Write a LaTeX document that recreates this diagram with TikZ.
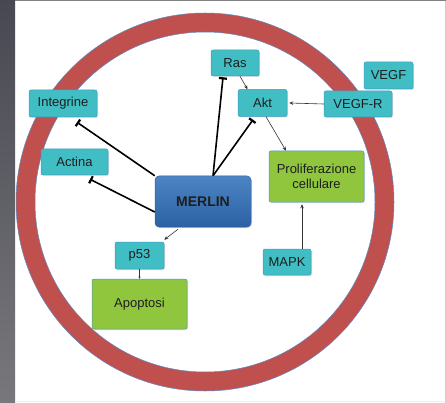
\documentclass[tikz,border=0pt]{standalone}
\usepackage{fontspec}
\setmainfont{Liberation Sans}
\usetikzlibrary{arrows.meta,shadows}
\definecolor{teal1}{RGB}{64,190,196}
\definecolor{tealedge}{RGB}{70,150,200}
\definecolor{green1}{RGB}{143,198,62}
\definecolor{ringred}{RGB}{192,80,77}
\definecolor{ringblue}{RGB}{90,140,200}
\definecolor{mtop}{RGB}{76,132,196}
\definecolor{mbot}{RGB}{44,98,164}
\definecolor{txt}{RGB}{30,30,30}
\tikzset{
  box/.style={rounded corners=2pt, draw=tealedge, line width=0.5pt, fill=teal1,
    text=txt, font=\fontsize{13}{15}\selectfont, align=center, inner sep=0pt,
    drop shadow={shadow xshift=1pt, shadow yshift=-1pt, opacity=0.25}},
  gbox/.style={box, fill=green1},
  mbox/.style={rounded corners=4pt, draw=mbot, line width=0.5pt, top color=mtop, bottom color=mbot,
    text=txt, font=\fontsize{14}{16}\selectfont\bfseries, inner sep=0pt,
    drop shadow={shadow xshift=1pt, shadow yshift=-1pt, opacity=0.25}},
  inhib/.style={line width=1.6pt, -{Bar[width=8pt,line width=2.2pt]}},
  act/.style={line width=0.6pt, draw=black!80, -{Stealth[length=4pt,width=3.5pt]}}
}
\begin{document}
\begin{tikzpicture}[x=1pt,y=-1pt]
\useasboundingbox (0,0) rectangle (446,403);
% background
\fill[white] (0,0) rectangle (446,403);
\shade[top color={rgb,255:red,72;green,72;blue,82}, bottom color={rgb,255:red,120;green,120;blue,124}] (0,0) rectangle (15,403);
\fill[black!50] (15,0) rectangle (446,1.3);
\fill[black!20] (444.5,1.3) rectangle (446,403);
\fill[black!6] (15,400.5) rectangle (444.5,401.5);
% ring
\draw[ringred, line width=19pt] (205,202) circle[radius=179.5];
\draw[ringblue, line width=0.5pt] (205,202) circle[radius=189];
\draw[ringblue, line width=0.5pt] (205,202) circle[radius=170];
% nodes
\node[box, minimum width=48pt, minimum height=26pt] (ras) at (235,63) {Ras};
\node[box, minimum width=49pt, minimum height=27pt] (vegf) at (388.5,75.5) {VEGF};
\node[box, minimum width=68pt, minimum height=27pt] (integ) at (63,103.5) {Integrine};
\node[box, minimum width=49pt, minimum height=27pt] (akt) at (262.5,103) {Akt};
\node[box, minimum width=68pt, minimum height=26pt] (vegfr) at (358,104) {VEGF-R};
\node[box, minimum width=67pt, minimum height=26pt] (actina) at (74.5,162) {Actina};
\node[mbox, minimum width=96pt, minimum height=51pt] (merlin) at (203,201.5) {MERLIN};
\node[gbox, minimum width=95pt, minimum height=51pt] (prolif) at (316.5,176.5) {Proliferazione\\cellulare};
\node[box, minimum width=49pt, minimum height=27pt] (p53) at (139.5,255.5) {p53};
\node[box, minimum width=48pt, minimum height=26pt] (mapk) at (287,262) {MAPK};
\node[gbox, minimum width=95pt, minimum height=50pt] (apop) at (139.5,304) {Apoptosi};
% inhibitions
\draw[inhib] (merlin.north west) -- ([shift={(14pt,-5pt)}]integ.south);
\draw[inhib] ([yshift=-10.5pt]merlin.west) -- ([shift={(15.5pt,-4pt)}]actina.south);
\draw[inhib] ([xshift=10pt]merlin.north) -- ([shift={(-12pt,-1pt)}]ras.south);
\draw[inhib] ([xshift=10pt]merlin.north) -- ([shift={(-9.5pt,-3pt)}]akt.south);
% activations
\draw[act] ([xshift=5pt]ras.south) -- ([xshift=-15pt]akt.north);
\draw[act] (vegfr.west) -- ([xshift=2pt]akt.east);
\draw[act] ([xshift=3.5pt]akt.south) -- ([xshift=-30.5pt]prolif.north);
\draw[act] ([xshift=15pt]mapk.north) -- ([xshift=15pt,yshift=-2pt]mapk.north |- prolif.south);
\draw[act] ([xshift=-25pt,yshift=-2pt]merlin.south) -- ([yshift=2pt]p53.north east);
\draw[act, -{Stealth[length=2pt,width=2pt]}] (p53.south) -- (apop.north);
\end{tikzpicture}
\end{document}
